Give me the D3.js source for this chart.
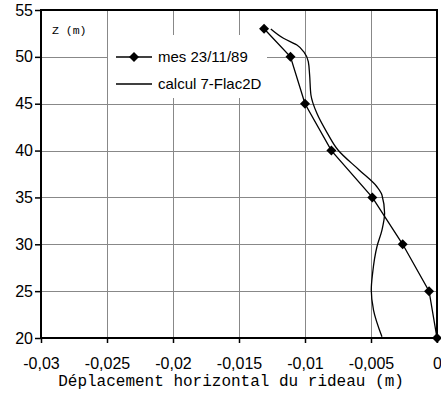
<!DOCTYPE html>
<html>
<head>
<meta charset="utf-8">
<script src="https://cdn.jsdelivr.net/npm/d3@7"></script>
<style>
  body { margin: 0; background: #fff; }
  svg { display: block; }
</style>
</head>
<body>
<script>
const width = 441;
const height = 395;

// measured profile (mes 23/11/89)
const mesZ = [53, 50, 45, 40, 35, 30, 25, 20];
const mesDx = [-0.0131, -0.0111, -0.0100, -0.0080, -0.0049, -0.0026, -0.0006, 0];

// computed profile (calcul 7-Flac2D), bottom to top
const calcZ = [20.13, 22.98, 25.12, 26.9, 29.74, 31.52, 33.3, 35.26, 36.14, 37.93, 40.06, 41.84, 43.97, 45.93, 48.06, 49.48, 50.55, 51.26, 51.98, 52.97];
const calcDx = [-0.00417, -0.00481, -0.00498, -0.00488, -0.00455, -0.00417, -0.00397, -0.00417, -0.00455, -0.0059, -0.0075, -0.0083, -0.0091, -0.00955, -0.00965, -0.00975, -0.0101, -0.01061, -0.01163, -0.01259];

const xTicks = [-0.03, -0.025, -0.02, -0.015, -0.01, -0.005, 0];
const yTicks = [20, 25, 30, 35, 40, 45, 50, 55];
const seriesNames = ["mes 23/11/89", "calcul 7-Flac2D"];

const plot = { left: 41, right: 437, top: 10, bottom: 338 };

const x = d3.scaleLinear().domain([-0.03, 0]).range([plot.left, plot.right]);
const y = d3.scaleLinear().domain([20, 55]).range([plot.bottom, plot.top]);

const fmt = d => String(d).replace(".", ",");
const sans = "Arial, 'Liberation Sans', sans-serif";
const mono = "'Liberation Mono', 'Courier New', monospace";

const svg = d3.select("body")
  .append("svg")
  .attr("width", width)
  .attr("height", height);

// grid
svg.append("g")
  .selectAll("line")
  .data(xTicks.slice(1, -1))
  .join("line")
  .attr("x1", d => Math.round(x(d)) + 0.5)
  .attr("x2", d => Math.round(x(d)) + 0.5)
  .attr("y1", plot.top)
  .attr("y2", plot.bottom)
  .attr("stroke", "#888")
  .attr("stroke-width", 1);

svg.append("g")
  .selectAll("line")
  .data(yTicks.slice(1, -1))
  .join("line")
  .attr("x1", plot.left)
  .attr("x2", plot.right)
  .attr("y1", d => Math.round(y(d)) + 0.5)
  .attr("y2", d => Math.round(y(d)) + 0.5)
  .attr("stroke", "#888")
  .attr("stroke-width", 1);

// legend background hides the grid
svg.append("rect")
  .attr("x", 108)
  .attr("y", 35)
  .attr("width", 159)
  .attr("height", 63)
  .attr("fill", "#fff");

// axes with outward ticks
const xAxis = d3.axisBottom(x).tickValues(xTicks).tickFormat(fmt).tickSize(5).tickSizeOuter(0);
const yAxis = d3.axisLeft(y).tickValues(yTicks).tickFormat(fmt).tickSize(6).tickSizeOuter(0);

const gx = svg.append("g")
  .attr("transform", `translate(0,${plot.bottom})`)
  .call(xAxis);
gx.select(".domain").remove();
gx.selectAll(".tick line").attr("stroke", "#000").attr("stroke-width", 1.5);
gx.selectAll(".tick text")
  .attr("y", 20)
  .attr("dy", "0.71em")
  .style("font-family", sans)
  .style("font-size", "16px")
  .attr("fill", "#000");

const gy = svg.append("g")
  .attr("transform", `translate(${plot.left},0)`)
  .call(yAxis);
gy.select(".domain").remove();
gy.selectAll(".tick line").attr("stroke", "#000").attr("stroke-width", 1.5);
gy.selectAll(".tick text")
  .attr("x", -8)
  .style("font-family", sans)
  .style("font-size", "16px")
  .attr("fill", "#000");

// frame
svg.append("rect")
  .attr("x", plot.left)
  .attr("y", plot.top)
  .attr("width", plot.right - plot.left)
  .attr("height", plot.bottom - plot.top)
  .attr("fill", "none")
  .attr("stroke", "#000")
  .attr("stroke-width", 2);

// series
const calcData = calcZ.map((z, i) => ({ x: calcDx[i], z }));
const mesData = mesZ.map((z, i) => ({ x: mesDx[i], z }));

svg.append("path")
  .datum(calcData)
  .attr("fill", "none")
  .attr("stroke", "#000")
  .attr("stroke-width", 1.3)
  .attr("d", d3.line().x(d => x(d.x)).y(d => y(d.z)).curve(d3.curveMonotoneY));

svg.append("path")
  .datum(mesData)
  .attr("fill", "none")
  .attr("stroke", "#000")
  .attr("stroke-width", 1.3)
  .attr("d", d3.line().x(d => x(d.x)).y(d => y(d.z)));

// square diamond marker
const diamond = "M0,-5L5,0L0,5L-5,0Z";

svg.append("g")
  .selectAll("path")
  .data(mesData)
  .join("path")
  .attr("transform", d => `translate(${x(d.x)},${y(d.z)})`)
  .attr("d", diamond)
  .attr("fill", "#000");

// legend
const legend = svg.append("g");
[57, 84].forEach((ly, i) => {
  legend.append("line")
    .attr("x1", 116).attr("x2", 152)
    .attr("y1", ly).attr("y2", ly)
    .attr("stroke", "#000")
    .attr("stroke-width", 1.3);
  if (i === 0) {
    legend.append("path")
      .attr("transform", `translate(134,${ly})`)
      .attr("d", diamond)
      .attr("fill", "#000");
  }
  legend.append("text")
    .attr("x", 158)
    .attr("y", ly)
    .attr("dy", "0.35em")
    .style("font-family", sans)
    .style("font-size", "15px")
    .text(seriesNames[i]);
});

// axis titles
svg.append("text")
  .attr("x", 52)
  .attr("y", 34)
  .style("font-family", mono)
  .style("font-size", "11.5px")
  .text("Z (m)");

svg.append("text")
  .attr("x", (plot.left + plot.right) / 2 - 8)
  .attr("y", 386)
  .attr("text-anchor", "middle")
  .style("font-family", mono)
  .style("font-size", "16px")
  .text("Déplacement horizontal du rideau (m)");
</script>
</body>
</html>
